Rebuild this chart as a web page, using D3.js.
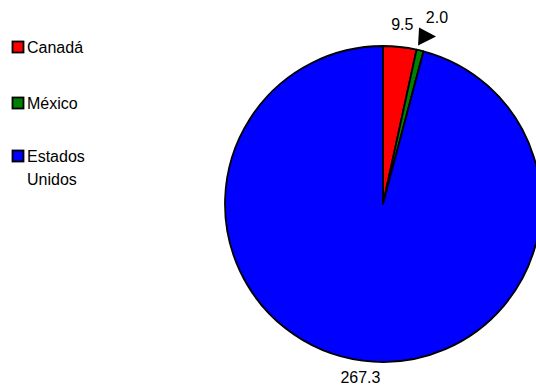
<!DOCTYPE html>
<html>
<head>
<meta charset="utf-8">
<script src="https://cdn.jsdelivr.net/npm/d3@7/dist/d3.min.js"></script>
<style>
  html, body { margin: 0; padding: 0; background: #fff; }
  svg { display: block; }
  text { font-family: "Liberation Sans", Arial, sans-serif; fill: #000; }
</style>
</head>
<body>
<svg id="chart" width="536" height="392"></svg>
<script>
// Países y valores
const categories = ["Canadá", "México", "Estados Unidos"];
const values = [9.5, 2.0, 267.3];
const valueLabels = ["9.5", "2.0", "267.3"];
const legendLines = [["Canadá"], ["México"], ["Estados", "Unidos"]];
const colors = ["#FF0000", "#008000", "#0000FF"];

const svg = d3.select("#chart");
const cx = 383, cy = 204, radius = 158;

const color = d3.scaleOrdinal().domain(categories).range(colors);

const pie = d3.pie().sort(null).value(d => d.value);
const arcs = pie(categories.map((c, i) => ({ name: c, value: values[i], label: valueLabels[i] })));

const arc = d3.arc().innerRadius(0).outerRadius(radius);

const g = svg.append("g").attr("transform", `translate(${cx},${cy})`);

g.selectAll("path.slice")
  .data(arcs)
  .join("path")
  .attr("class", "slice")
  .attr("d", arc)
  .attr("fill", d => color(d.data.name))
  .attr("stroke", "#000")
  .attr("stroke-width", 1.8)
  .attr("stroke-linejoin", "round");

// Etiquetas de valor fuera del círculo
const labelRadius = 181;
const labelNudge = {
  "México": { dr: 13, da: 0.045 },
  "Estados Unidos": { dr: -6, da: 0 }
};
function labelPos(d) {
  const n = labelNudge[d.data.name] || { dr: 0, da: 0 };
  const a = (d.startAngle + d.endAngle) / 2 + n.da;
  const r = labelRadius + n.dr;
  return [Math.sin(a) * r, -Math.cos(a) * r];
}
g.selectAll("text.value")
  .data(arcs)
  .join("text")
  .attr("class", "value")
  .attr("text-anchor", "middle")
  .attr("dominant-baseline", "central")
  .attr("font-size", 16)
  .attr("x", d => labelPos(d)[0])
  .attr("y", d => labelPos(d)[1])
  .text(d => d.data.label);

// Flecha que señala la porción de México
const mx = arcs[1];
const ma = (mx.startAngle + mx.endAngle) / 2;
const ax = Math.sin(ma) * radius, ay = -Math.cos(ma) * radius;
g.append("path")
  .attr("d", `M${ax - 2},${ay - 5} L${ax - 1},${ay - 23} L${ax + 16},${ay - 14} Z`)
  .attr("fill", "#000");

// Leyenda
const legend = svg.append("g");
const legendY = [47, 103, 156];
legendLines.forEach((lines, i) => {
  const item = legend.append("g").attr("transform", `translate(12,${legendY[i]})`);
  item.append("rect")
    .attr("x", 0.5).attr("y", -5.5)
    .attr("width", 11).attr("height", 11)
    .attr("fill", colors[i])
    .attr("stroke", "#000")
    .attr("stroke-width", 1.8);
  lines.forEach((t, j) => {
    item.append("text")
      .attr("x", 15)
      .attr("y", j * 23)
      .attr("dominant-baseline", "central")
      .attr("font-size", 16)
      .text(t);
  });
});
</script>
</body>
</html>
